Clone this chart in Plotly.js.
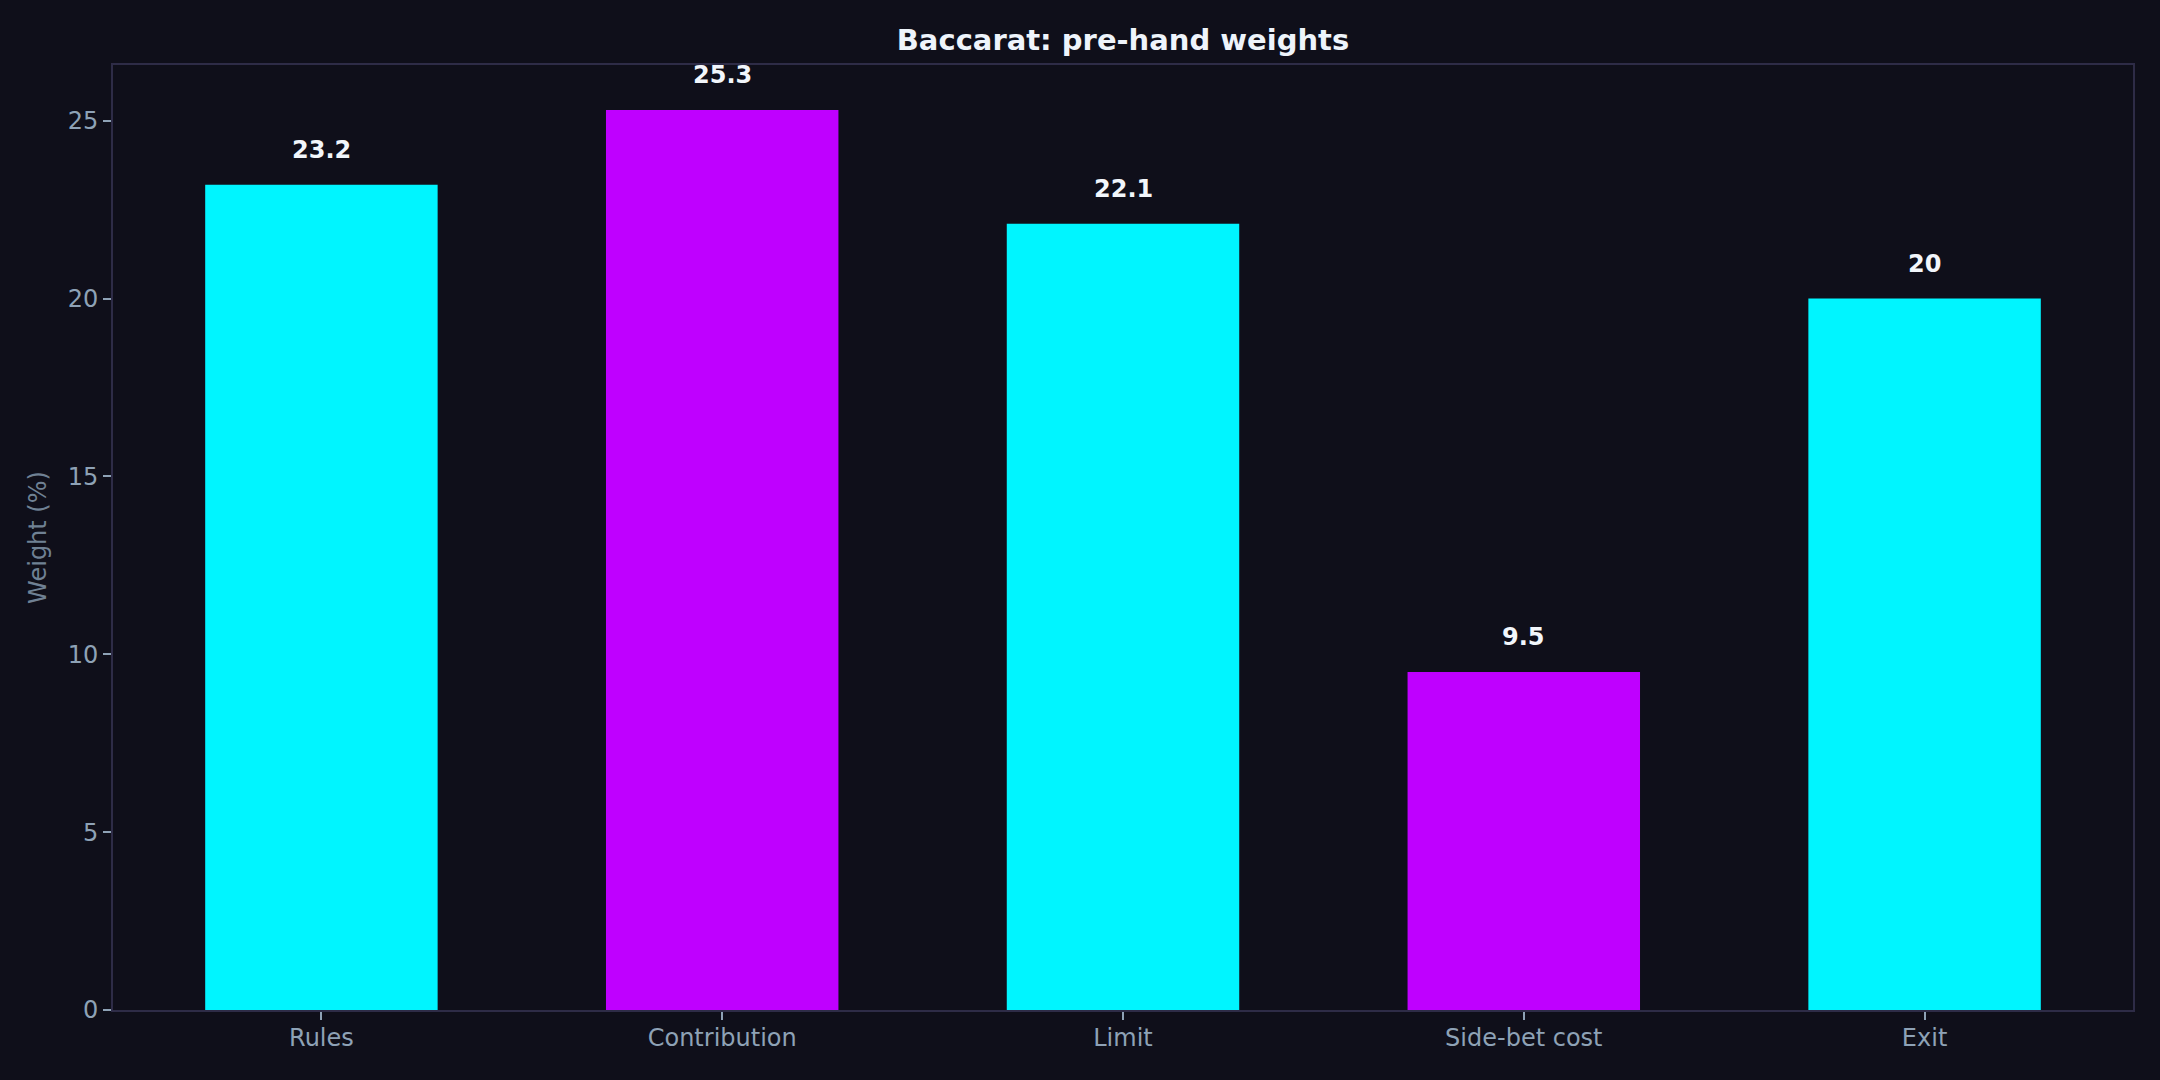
<!DOCTYPE html>
<html>
<head>
<meta charset="utf-8">
<script src="https://cdn.plot.ly/plotly-3.0.1.min.js"></script>
<style>
  html, body { margin: 0; padding: 0; background: #0f0f1a; }
  #chart { width: 2160px; height: 1080px; }
</style>
</head>
<body>
<div id="chart"></div>
<script>
// data
const categories = ['Rules', 'Contribution', 'Limit', 'Side-bet cost', 'Exit'];
const weights = [23.2, 25.3, 22.1, 9.5, 20];
const barColors = ['#00f5ff', '#bf00ff', '#00f5ff', '#bf00ff', '#00f5ff'];
const valueLabels = ['23.2', '25.3', '22.1', '9.5', '20'];
const yTicks = [0, 5, 10, 15, 20, 25];

function plotBars(el) {

    let trace = {
        x: categories,
        y: weights,
        type: 'bar',
        width: 0.58,
        marker: {color: barColors, line: {width: 0}},
        hoverinfo: 'x+y'
    };

    // value labels above each bar
    let notes = [];
    for (let i = 0; i < categories.length; i++) {
        notes.push({
            x: categories[i],
            y: weights[i],
            text: '<b>' + valueLabels[i] + '</b>',
            showarrow: false,
            yanchor: 'bottom',
            yshift: 19,
            font: {family: 'DejaVu Sans', size: 24, color: '#f2f6fb'}
        });
    }

    const axisFont = {family: 'DejaVu Sans', size: 24, color: '#8ea2b6'};

    const layout = {
        width: 2160,
        height: 1080,
        paper_bgcolor: '#0f0f1a',
        plot_bgcolor: '#0f0f1a',
        margin: {l: 113, r: 27, t: 65, b: 70},
        showlegend: false,
        title: {
            text: '<b>Baccarat: pre-hand weights</b>',
            xref: 'paper',
            x: 0.5,
            xanchor: 'center',
            y: 1 - 40 / 1080,
            yanchor: 'middle',
            font: {family: 'DejaVu Sans', size: 29, color: '#eef4fb'}
        },
        xaxis: {
            type: 'category',
            range: [-0.52, 4.52],
            showgrid: false,
            zeroline: false,
            showline: true,
            mirror: true,
            linecolor: '#2e2c47',
            linewidth: 2,
            ticks: 'outside',
            ticklen: 8,
            tickwidth: 1.5,
            tickcolor: '#8ea2b6',
            ticklabelstandoff: -3,
            tickfont: axisFont
        },
        yaxis: {
            range: [0, 26.565],
            tickvals: yTicks,
            showgrid: false,
            zeroline: false,
            showline: true,
            mirror: true,
            linecolor: '#2e2c47',
            linewidth: 2,
            ticks: 'outside',
            ticklen: 8,
            tickwidth: 1.5,
            tickcolor: '#8ea2b6',
            tickfont: axisFont,
            title: {
                text: 'Weight (%)',
                standoff: 14,
                font: {family: 'DejaVu Sans', size: 24, color: '#6f8194'}
            }
        },
        annotations: notes
    };

    Plotly.newPlot(el, [trace], layout, {displayModeBar: false, responsive: false});
}

plotBars('chart');
</script>
</body>
</html>
